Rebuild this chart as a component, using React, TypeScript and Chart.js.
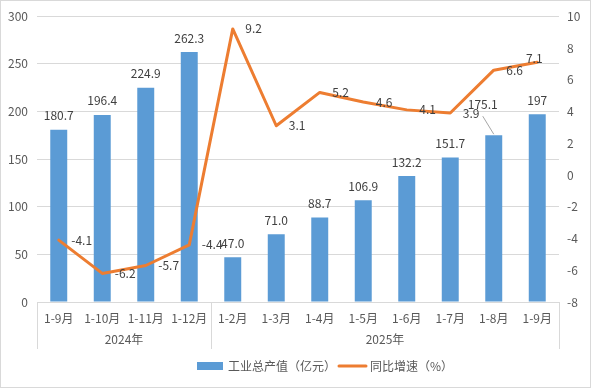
import React, { useEffect, useRef } from "react";
import { Chart, registerables } from "chart.js";

Chart.register(...registerables);

const categories = ["1-9月", "1-10月", "1-11月", "1-12月", "1-2月", "1-3月", "1-4月", "1-5月", "1-6月", "1-7月", "1-8月", "1-9月"];
const groupLabels = ["2024年", "2025年"];
const groupSizes = [4, 8];
const outputValues = [180.7, 196.4, 224.9, 262.3, 47.0, 71.0, 88.7, 106.9, 132.2, 151.7, 175.1, 197];
const outputLabels = ["180.7", "196.4", "224.9", "262.3", "47.0", "71.0", "88.7", "106.9", "132.2", "151.7", "175.1", "197"];
const growthValues = [-4.1, -6.2, -5.7, -4.4, 9.2, 3.1, 5.2, 4.6, 4.1, 3.9, 6.6, 7.1];
const growthLabels = ["-4.1", "-6.2", "-5.7", "-4.4", "9.2", "3.1", "5.2", "4.6", "4.1", "3.9", "6.6", "7.1"];
const leftTicks = { min: 0, max: 300, step: 50 };
const rightTicks = { min: -8, max: 10, step: 2 };
const barName = "工业总产值（亿元）";
const lineName = "同比增速（%）";

const FONT = "'Noto Sans CJK SC', 'Noto Sans', sans-serif";
const BLUE = "#5B9BD5";
const ORANGE = "#ED7D31";
const AXIS_TXT = "#595959";
const LABEL_TXT = "#404040";
const GRID = "#D9D9D9";

const overlayPlugin = {
  id: "overlay",
  beforeDraw(chart: any) {
    const ctx = chart.ctx;
    ctx.save();
    ctx.fillStyle = "#ffffff";
    ctx.fillRect(0, 0, chart.width, chart.height);
    ctx.restore();
  },
  afterDraw(chart: any) {
    const ctx = chart.ctx;
    const area = chart.chartArea;
    const xs = chart.scales.x;
    ctx.save();
    // group separators and labels
    ctx.strokeStyle = GRID;
    ctx.lineWidth = 1;
    const half = (xs.getPixelForValue(1) - xs.getPixelForValue(0)) / 2;
    let start = 0;
    const sepBottom = 349;
    const drawSep = (x: number) => {
      ctx.beginPath();
      ctx.moveTo(Math.round(x) + 0.5, area.bottom);
      ctx.lineTo(Math.round(x) + 0.5, sepBottom);
      ctx.stroke();
    };
    drawSep(xs.getPixelForValue(0) - half);
    ctx.font = `12px ${FONT}`;
    ctx.fillStyle = AXIS_TXT;
    ctx.textAlign = "center";
    ctx.textBaseline = "middle";
    groupSizes.forEach((n, gi) => {
      const x0 = xs.getPixelForValue(start) - half;
      const x1 = xs.getPixelForValue(start + n - 1) + half;
      drawSep(x1);
      ctx.fillText(groupLabels[gi], (x0 + x1) / 2, 339);
      start += n;
    });

    // data labels
    const barMeta = chart.getDatasetMeta(1);
    const lineMeta = chart.getDatasetMeta(0);
    ctx.font = `12px ${FONT}`;
    ctx.fillStyle = LABEL_TXT;
    barMeta.data.forEach((el: any, i: number) => {
      let x = el.x;
      let y = el.y - 14;
      if (i === 10) {
        x = el.x - 11;
        y = el.y - 31;
        ctx.save();
        ctx.strokeStyle = "#A6A6A6";
        ctx.lineWidth = 1;
        ctx.beginPath();
        ctx.moveTo(x, y + 12);
        ctx.lineTo(el.x, el.y - 1);
        ctx.stroke();
        ctx.restore();
      }
      ctx.textAlign = "center";
      ctx.fillText(outputLabels[i], x, y);
    });
    lineMeta.data.forEach((el: any, i: number) => {
      if (i === 11) {
        ctx.textAlign = "center";
        ctx.fillText(growthLabels[i], el.x - 3, el.y - 4);
      } else {
        ctx.textAlign = "left";
        ctx.fillText(growthLabels[i], el.x + 12.5, el.y);
      }
    });

    // legend
    const ly = 366;
    ctx.fillStyle = BLUE;
    ctx.fillRect(197, ly - 4, 26, 8);
    ctx.fillStyle = AXIS_TXT;
    ctx.textAlign = "left";
    ctx.fillText(barName, 228, ly);
    ctx.strokeStyle = ORANGE;
    ctx.lineWidth = 3;
    ctx.lineCap = "round";
    ctx.beginPath();
    ctx.moveTo(339, ly);
    ctx.lineTo(366, ly);
    ctx.stroke();
    ctx.fillText(lineName, 370, ly);

    // outer border
    ctx.strokeStyle = GRID;
    ctx.lineWidth = 1;
    ctx.strokeRect(0.5, 0.5, chart.width - 1, chart.height - 1);
    ctx.restore();
  },
};

export default function App() {
  const ref = useRef<HTMLCanvasElement | null>(null);
  useEffect(() => {
    if (!ref.current) return;
    const chart = new Chart(ref.current, {
      type: "bar",
      data: {
        labels: categories,
        datasets: [
          {
            type: "line",
            label: lineName,
            data: growthValues,
            yAxisID: "y1",
            borderColor: ORANGE,
            backgroundColor: ORANGE,
            borderWidth: 3,
            pointRadius: 0,
            tension: 0,
            borderJoinStyle: "round",
            borderCapStyle: "round",
            order: 0,
          } as any,
          {
            type: "bar",
            label: barName,
            data: outputValues,
            yAxisID: "y",
            backgroundColor: BLUE,
            barPercentage: 0.39,
            categoryPercentage: 1,
            order: 1,
          },
        ],
      },
      options: {
        responsive: false,
        animation: false,
        layout: { padding: { top: 15, left: 0, right: 0, bottom: 0 } },
        plugins: { legend: { display: false }, tooltip: { enabled: false } },
        scales: {
          x: {
            grid: { display: false, drawTicks: false },
            border: { display: false },
            ticks: {
              color: AXIS_TXT,
              font: { family: FONT, size: 12 },
              padding: 9,
              maxRotation: 0,
              autoSkip: false,
            },
            afterFit: (s: any) => {
              s.height = 86;
            },
          },
          y: {
            position: "left",
            min: leftTicks.min,
            max: leftTicks.max,
            grid: { color: GRID, drawTicks: false },
            border: { display: false },
            ticks: {
              stepSize: leftTicks.step,
              color: AXIS_TXT,
              font: { family: FONT, size: 12 },
              padding: 9,
            },
            afterFit: (s: any) => {
              s.width = 37;
            },
          },
          y1: {
            position: "right",
            min: rightTicks.min,
            max: rightTicks.max,
            grid: { display: false, drawTicks: false },
            border: { display: false },
            ticks: {
              stepSize: rightTicks.step,
              color: AXIS_TXT,
              font: { family: FONT, size: 12 },
              padding: 8,
            },
            afterFit: (s: any) => {
              s.width = 32;
            },
          },
        },
      },
      plugins: [overlayPlugin],
    });
    return () => chart.destroy();
  }, []);
  return (
    <div style={{ position: "fixed", left: 0, top: 0, width: 591, height: 388 }}>
      <canvas ref={ref} width={591} height={388} style={{ display: "block" }} />
    </div>
  );
}
